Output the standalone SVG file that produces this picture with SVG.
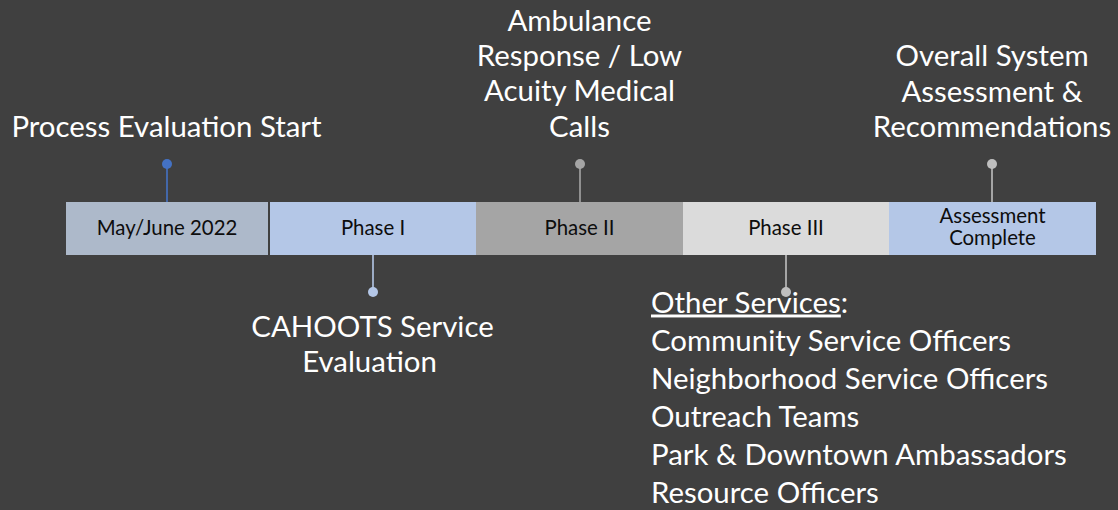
<svg xmlns="http://www.w3.org/2000/svg" width="1118" height="510" viewBox="0 0 1118 510">
<style>
.lbl{font-family:Lato,"Open Sans","Liberation Sans",sans-serif;font-size:29.4px;fill:#FFFFFF}
.bar{font-family:Lato,"Open Sans","Liberation Sans",sans-serif;font-size:20.4px;fill:#0D0D0D;text-anchor:middle}
.c{text-anchor:middle}
</style>
<rect x="0" y="0" width="1118" height="510" fill="#404040"/>
<g id="connectors">
<line x1="167" y1="164" x2="167" y2="202" stroke="#4472C4" stroke-width="1.6"/>
<circle cx="167" cy="164" r="5" fill="#4472C4"/>
<line x1="373" y1="255" x2="373" y2="292" stroke="#B4C7E7" stroke-width="1.6"/>
<circle cx="373" cy="292" r="5" fill="#B4C7E7"/>
<line x1="580" y1="164" x2="580" y2="202" stroke="#A5A5A5" stroke-width="1.6"/>
<circle cx="580" cy="164" r="5" fill="#A5A5A5"/>
<line x1="786" y1="255" x2="786" y2="292" stroke="#BFBFBF" stroke-width="1.6"/>
<circle cx="992" cy="164" r="5" fill="#BFBFBF"/>
<line x1="992" y1="164" x2="992" y2="202" stroke="#BFBFBF" stroke-width="1.6"/>
</g>
<g id="seg-mayjune">
<rect x="66" y="202" width="202" height="53" fill="#ADB9CA"/>
<text class="bar" x="167" y="235">May/June 2022</text>
</g>
<g id="seg-phase1">
<rect x="270" y="202" width="206" height="53" fill="#B4C7E7"/>
<text class="bar" x="373" y="235">Phase I</text>
</g>
<g id="seg-phase2">
<rect x="476" y="202" width="207" height="53" fill="#A5A5A5"/>
<text class="bar" x="579.5" y="235">Phase II</text>
</g>
<g id="seg-phase3">
<rect x="683" y="202" width="206" height="53" fill="#DBDBDB"/>
<text class="bar" x="786" y="235">Phase III</text>
</g>
<g id="seg-assessment">
<rect x="889" y="202" width="207" height="53" fill="#B4C7E7"/>
<text class="bar" x="992.5" y="222.5">Assessment</text>
<text class="bar" x="992.5" y="245">Complete</text>
</g>
<g id="label-process">
<text class="lbl c" x="166.5" y="136.5">Process Evaluation Start</text>
</g>
<g id="label-ambulance">
<text class="lbl c" x="579.5" y="30.5">Ambulance</text>
<text class="lbl c" x="579.5" y="65.5">Response / Low</text>
<text class="lbl c" x="579.5" y="101">Acuity Medical</text>
<text class="lbl c" x="579.5" y="136.5">Calls</text>
</g>
<g id="label-overall">
<text class="lbl c" x="992" y="66">Overall System</text>
<text class="lbl c" x="992" y="101.5">Assessment &amp;</text>
<text class="lbl c" x="992" y="136.5">Recommendations</text>
</g>
<g id="label-cahoots">
<text class="lbl c" x="372.5" y="336.5">CAHOOTS Service</text>
<text class="lbl c" x="369.5" y="371.5">Evaluation</text>
</g>
<g id="label-other">
<text class="lbl" x="651" y="312.5"><tspan text-decoration="underline">Other Services</tspan>:</text>
<text class="lbl" x="651" y="350.5">Community Service Officers</text>
<text class="lbl" x="651" y="389">Neighborhood Service Officers</text>
<text class="lbl" x="651" y="427">Outreach Teams</text>
<text class="lbl" x="651" y="465">Park &amp; Downtown Ambassadors</text>
<text class="lbl" x="651" y="503">Resource Officers</text>
</g>
<circle cx="786" cy="292" r="5" fill="#BFBFBF"/>
</svg>
